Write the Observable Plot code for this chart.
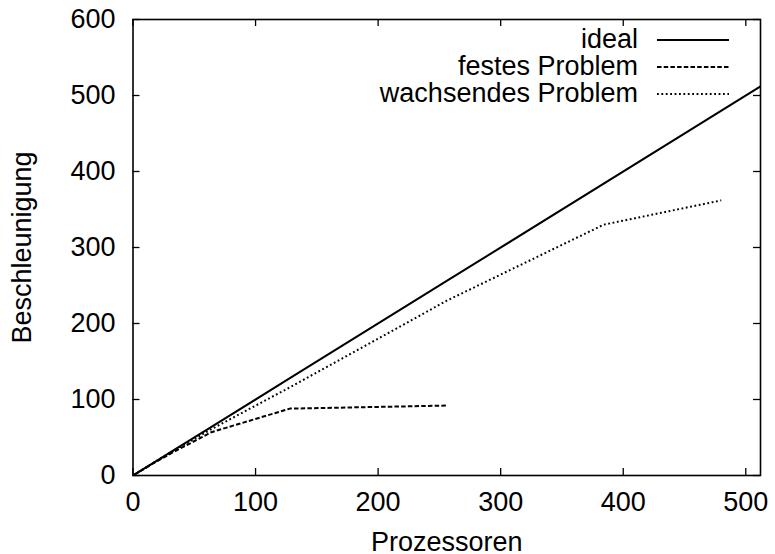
<!DOCTYPE html>
<html><head><meta charset="utf-8">
<script src="https://cdn.jsdelivr.net/npm/d3@7"></script>
<script src="https://cdn.jsdelivr.net/npm/@observablehq/plot@0.6"></script>
<style>
body{margin:0;background:#fff}
#c{position:relative;width:775px;height:554px;font-family:"Liberation Sans",Arial,sans-serif}
</style>
</head><body><div id="c"></div>
<script>
// Data
const idealProcs = [1, 2, 4, 8, 16, 32, 64, 128, 256, 512];
const idealSpeedup = [1, 2, 4, 8, 16, 32, 64, 128, 256, 512];
const fixedProcs = [1, 2, 4, 8, 16, 32, 64, 128, 256];
const fixedSpeedup = [1, 2, 3.9, 7.8, 15.5, 30, 57, 88, 92];
const growProcs = [1, 2, 4, 8, 16, 32, 64, 128, 256, 384, 480];
const growSpeedup = [1, 2, 4, 8, 16, 31.5, 61, 116, 230, 330, 362];
const seriesNames = ["ideal", "festes Problem", "wachsendes Problem"];
const xTicks = [0, 100, 200, 300, 400, 500];
const yTicks = [0, 100, 200, 300, 400, 500, 600];
const xLabel = "Prozessoren";
const yLabel = "Beschleunigung";

const dashes = [null, "4.5,2.2", "1.8,2.6"];
const toRows = (xs, ys) => xs.map((x, i) => ({x, y: ys[i]}));
const series = [toRows(idealProcs, idealSpeedup), toRows(fixedProcs, fixedSpeedup), toRows(growProcs, growSpeedup)];

const W = 775, H = 554, ml = 132.5, mr = 15, mt = 19, mb = 79;
const iw = W - ml - mr, ih = H - mt - mb;
const tk = 7;
const fs = 27;
const font = "'Liberation Sans', Arial, sans-serif";

const plot = Plot.plot({
  width: W, height: H,
  marginLeft: ml, marginRight: mr, marginTop: mt, marginBottom: mb,
  style: {fontFamily: font, fontSize: fs + "px", color: "#000", background: "#fff", overflow: "visible"},
  x: {domain: [0, 512]},
  y: {domain: [0, 600]},
  marks: [
    Plot.axisX(xTicks, {tickSize: 0, tickPadding: 16, label: null}),
    Plot.axisY(yTicks, {tickSize: 0, tickPadding: 17.5, label: null}),
    Plot.tickX(xTicks, {x: d => d, insetTop: ih - tk, stroke: "#000", strokeWidth: 1.3}),
    Plot.tickX(xTicks, {x: d => d, insetBottom: ih - tk, stroke: "#000", strokeWidth: 1.3}),
    Plot.tickY(yTicks, {y: d => d, insetRight: iw - tk, stroke: "#000", strokeWidth: 1.3}),
    Plot.tickY(yTicks, {y: d => d, insetLeft: iw - tk, stroke: "#000", strokeWidth: 1.3}),
    ...series.map((s, i) => Plot.line(s, {x: "x", y: "y", stroke: "#000", strokeWidth: 2,
      strokeDasharray: dashes[i] ?? undefined, strokeLinecap: "butt", strokeLinejoin: "round"})),
    Plot.frame({stroke: "#000", strokeWidth: 1.6}),
    Plot.text([xLabel], {frameAnchor: "bottom", dy: 75, lineAnchor: "bottom", text: d => d, fill: "#000"}),
    Plot.text([yLabel], {frameAnchor: "left", dx: 22 - ml, rotate: -90, textAnchor: "middle", lineAnchor: "middle", text: d => d, fill: "#000"})
  ]
});
document.getElementById("c").appendChild(plot);

// Legend (inside the SVG, top right)
const svg = d3.select(plot);
const lg = svg.append("g").attr("font-family", font).attr("font-size", fs).attr("fill", "#000");
const rowY = [40, 67, 94];
seriesNames.forEach((name, i) => {
  lg.append("text").attr("x", 638).attr("y", rowY[i]).attr("dy", "0.3em")
    .attr("text-anchor", "end").text(name);
  const ln = lg.append("line").attr("x1", 657).attr("x2", 729).attr("y1", rowY[i]).attr("y2", rowY[i])
    .attr("stroke", "#000").attr("stroke-width", 2);
  if (dashes[i]) ln.attr("stroke-dasharray", dashes[i]);
});
</script>
</body></html>
